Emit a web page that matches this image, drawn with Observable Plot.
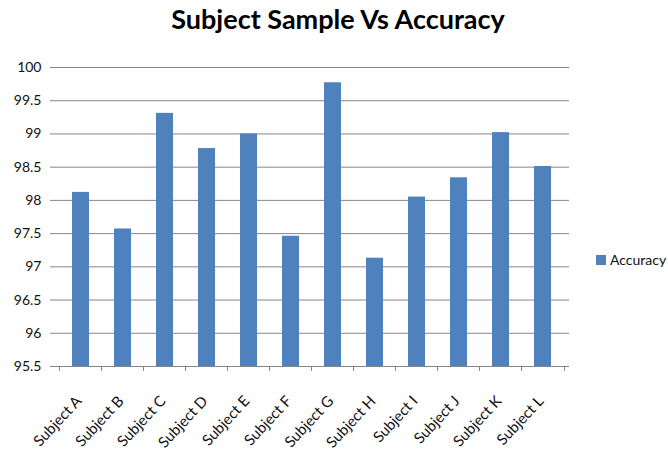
<!DOCTYPE html>
<html>
<head>
<meta charset="utf-8">
<script src="https://cdn.jsdelivr.net/npm/d3@7"></script>
<script src="https://cdn.jsdelivr.net/npm/@observablehq/plot@0.6"></script>
<style>
  html, body { margin: 0; padding: 0; background: #fff; }
  #wrap { position: relative; width: 668px; height: 454px; overflow: hidden; font-family: Lato, "Open Sans", sans-serif; }
  #title { position: absolute; left: 0; width: 676px; top: 2px; text-align: center; font-weight: bold; font-size: 27px; color: #000; }
  #legend { position: absolute; left: 596px; top: 251px; font-size: 14px; color: #111; display: flex; align-items: center; white-space: nowrap; }
  #legend .sw { width: 10px; height: 10px; background: #4F81BD; margin-right: 4px; }
  #chart { position: absolute; left: 0; top: 0; }
</style>
</head>
<body>
<div id="wrap">
  <div id="chart"></div>
  <div id="title">Subject Sample Vs Accuracy</div>
  <div id="legend"><div class="sw"></div><span>Accuracy</span></div>
</div>
<script>
const subjects = ["Subject A","Subject B","Subject C","Subject D","Subject E","Subject F","Subject G","Subject H","Subject I","Subject J","Subject K","Subject L"];
const accuracy = [98.12, 97.57, 99.31, 98.78, 99.0, 97.46, 99.77, 97.13, 98.05, 98.34, 99.02, 98.51];
const yTicks = [95.5, 96, 96.5, 97, 97.5, 98, 98.5, 99, 99.5, 100];
const seriesName = "Accuracy";

const data = subjects.map((s, i) => ({subject: s, value: accuracy[i]}));

const chart = Plot.plot({
  width: 668,
  height: 454,
  marginTop: 67,
  marginBottom: 88,
  marginLeft: 54,
  marginRight: 99,
  style: {fontFamily: "Lato, 'Open Sans', sans-serif", fontSize: "14px", color: "#111", background: "white"},
  x: {domain: subjects, paddingInner: 0.6, paddingOuter: 0.3, label: null},
  y: {domain: [95.5, 100], label: null},
  marks: [
    Plot.ruleY(yTicks, {stroke: "#868686", strokeWidth: 1, strokeOpacity: 1}),
    Plot.axisY({ticks: yTicks, tickSize: 4, tickPadding: 9, stroke: "#868686", strokeOpacity: 1, tickFormat: d => String(d), fontSize: 14}),
    Plot.barY(data, {x: "subject", y1: 95.5, y2: "value", fill: "#4F81BD"}),
    Plot.ruleX(subjects, {x: d => d, dx: -21.5, y1: 95.5, y2: 95.425, stroke: "#868686", strokeOpacity: 1}),
    Plot.ruleX([subjects[subjects.length - 1]], {x: d => d, dx: 21.5, y1: 95.5, y2: 95.425, stroke: "#868686", strokeOpacity: 1}),
    Plot.axisX({tickSize: 0, tickRotate: -47, tickPadding: 8, dx: -2, dy: 24, fontSize: 15, tickFormat: d => d})
  ]
});
document.getElementById("chart").appendChild(chart);
</script>
</body>
</html>
